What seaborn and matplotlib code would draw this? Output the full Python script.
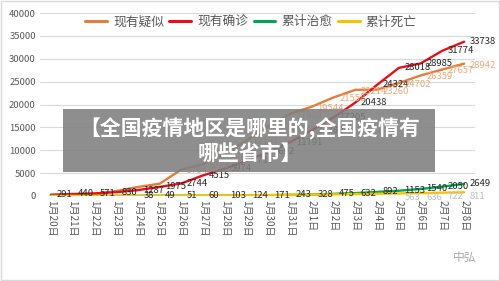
import matplotlib
matplotlib.use("Agg")
import matplotlib.pyplot as plt
import seaborn as sns
import pandas as pd
from matplotlib.patches import Rectangle

dates = ["1月20日", "1月21日", "1月22日", "1月23日", "1月24日", "1月25日", "1月26日",
         "1月27日", "1月28日", "1月29日", "1月30日", "1月31日", "2月1日", "2月2日",
         "2月3日", "2月4日", "2月5日", "2月6日", "2月7日", "2月8日"]
suspected = [54, 37, 393, 1072, 1965, 2684, 5794, 6973, 9239, 12167, 15238, 17988,
             19544, 21558, 23214, 23260, 24702, 26359, 27657, 28942]
confirmed = [291, 440, 571, 830, 1287, 1975, 2744, 4515, 5974, 7711, 9692, 11791,
             14380, 17205, 20438, 24324, 28018, 28985, 31774, 33738]
cured = [25, 25, 28, 34, 38, 49, 51, 60, 103, 124, 171, 243, 328, 475, 632, 892,
         1153, 1540, 2050, 2649]
deaths = [6, 9, 17, 25, 41, 56, 80, 106, 132, 170, 213, 259, 304, 361, 425, 490,
          563, 636, 722, 811]
series_names = ["现有疑似", "现有确诊", "累计治愈", "累计死亡"]
y_ticks = [0, 5000, 10000, 15000, 20000, 25000, 30000, 35000, 40000]
overlay_title = "【全国疫情地区是哪里的,全国疫情有\n哪些省市】"
watermark = "中弘"

colors = ["#E47C3A", "#E5101B", "#00A651", "#F7C200"]

sns.set_theme(style="white")
plt.rcParams['font.family'] = ['Noto Sans CJK SC', 'DejaVu Sans']

vals = [suspected, confirmed, cured, deaths]
rows = []
for name, v in zip(series_names, vals):
    for i, val in enumerate(v):
        rows.append({"idx": i, "value": val, "series": name})
df = pd.DataFrame(rows)

fig = plt.figure(figsize=(5.0, 2.81), dpi=100)
ax = fig.add_axes([0.08, 0.3025, 0.87, 0.651])
sns.lineplot(data=df, x="idx", y="value", hue="series", hue_order=series_names,
             palette=colors, linewidth=1.7, ax=ax, legend=True)

ax.set_xlim(-0.5, len(dates) - 0.5)
ax.set_ylim(0, 40000)
ax.set_yticks(y_ticks)
ax.set_yticklabels([str(t) for t in y_ticks], fontsize=6.8, color="#595959")
ax.set_xticks(range(len(dates)))
ax.set_xticklabels(dates, rotation=270, fontsize=7.2, color="#595959", va="top")
ax.tick_params(axis="both", length=0, pad=3)
ax.grid(axis="y", color="#D9D9D9", linewidth=0.8)
ax.set_axisbelow(True)
for s in ax.spines.values():
    s.set_visible(False)
ax.set_xlabel("")
ax.set_ylabel("")

leg = ax.legend(loc="center", bbox_to_anchor=(0.502, 0.922), bbox_transform=fig.transFigure,
                ncol=4, frameon=False, fontsize=9.2, handlelength=1.7, handletextpad=0.5,
                columnspacing=0.4)
for t in leg.get_texts():
    t.set_color("#595959")
for l in leg.get_lines():
    l.set_linewidth(2.2)

lab_kw = dict(textcoords="offset points", fontsize=6.8, ha="left", va="center")
for i, v in enumerate(confirmed):
    ax.annotate(str(v), (i, v), xytext=(4, 0), color="#262626", **lab_kw)
for i, v in enumerate(suspected):
    if i >= 6:
        ax.annotate(str(v), (i, v), xytext=(4, -1), color="#EFA77A", **lab_kw)
for i, v in enumerate(cured):
    if i >= 4:
        ax.annotate(str(v), (i, v), xytext=(4, 0), color="#262626", **lab_kw)
for i, v in enumerate(deaths):
    if i >= 16:
        ax.annotate(str(v), (i, v), xytext=(4, -3), color="#BFBFBF", **lab_kw)

# overlay box
fig.patches.append(Rectangle((63 / 500, 1 - 172 / 281), (435 - 63) / 500, (172 - 109) / 281,
                             transform=fig.transFigure, facecolor="#7F7F7F", alpha=0.88,
                             edgecolor="none", zorder=10))
fig.text(0.5, 1 - 140.5 / 281, overlay_title, ha="center", va="center", color="white",
         fontsize=15, fontweight="bold", linespacing=1.2, zorder=11)
fig.text(0.93, 1 - 258 / 281, watermark, ha="center", va="center", color="#AAAAAA",
         fontsize=8.5, zorder=11)
# image frame
fig.patches.append(Rectangle((0.001, 0.002), 0.997, 0.995, transform=fig.transFigure,
                             facecolor="none", edgecolor="#D9D9D9", linewidth=1.0, zorder=12))

fig.savefig("out.png", dpi=100)
